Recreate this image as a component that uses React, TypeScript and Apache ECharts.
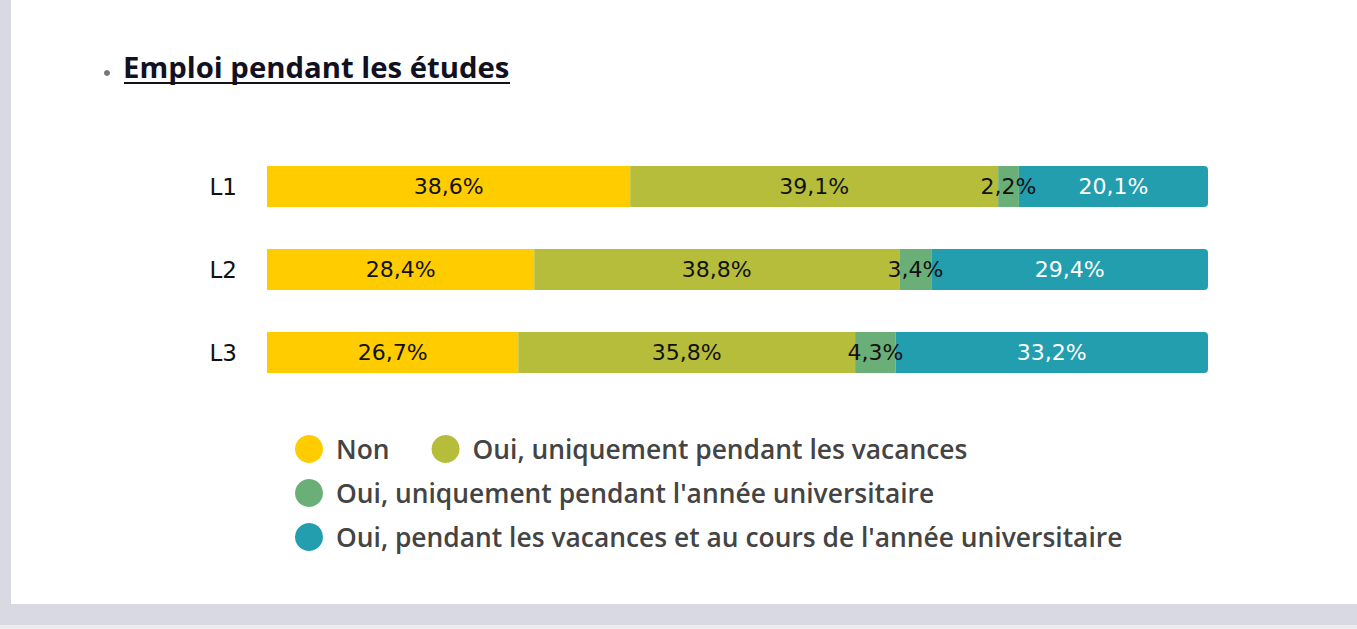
import React, { useEffect, useRef } from "react";
import * as echarts from "echarts";

const categories = ["L1", "L2", "L3"];
const seriesNames = [
  "Non",
  "Oui, uniquement pendant les vacances",
  "Oui, uniquement pendant l'année universitaire",
  "Oui, pendant les vacances et au cours de l'année universitaire",
];
const nonValues = [38.6, 28.4, 26.7];
const vacancesValues = [39.1, 38.8, 35.8];
const anneeValues = [2.2, 3.4, 4.3];
const tousValues = [20.1, 29.4, 33.2];
const seriesColors = ["#FFCC00", "#B5BD3B", "#6AAE78", "#239EAF"];
const titleText = "Emploi pendant les études";

export default function App() {
  const ref = useRef<HTMLDivElement>(null);
  useEffect(() => {
    if (!ref.current) return;
    const chart = echarts.init(ref.current, null, { renderer: "svg" });
    const values = [nonValues, vacancesValues, anneeValues, tousValues];
    const labelFont = "'DejaVu Sans', Verdana, sans-serif";
    const legendText = {
      fontFamily: "'Open Sans', Lato, sans-serif",
      fontWeight: 600 as any,
      fontSize: 26.4,
      color: "#444444",
      padding: [0, 0, 0, 8],
    };
    const legendCommon = {
      orient: "horizontal" as const,
      icon: "circle",
      itemWidth: 28,
      itemHeight: 28,
      itemGap: 42,
      textStyle: legendText,
      selectedMode: false,
      padding: 0,
    };
    chart.setOption({
      animation: false,
      backgroundColor: "#ececec",
      graphic: [
        { type: "rect", shape: { x: 0, y: 0, width: 1357, height: 625 }, style: { fill: "#d9d9e3" }, z: -10 },
        { type: "rect", shape: { x: 11, y: 0, width: 1346, height: 604 }, style: { fill: "#ffffff" }, z: -9 },
        { type: "circle", shape: { cx: 107, cy: 73, r: 3 }, style: { fill: "#777777" } },
        {
          type: "text",
          x: 123,
          y: 67,
          style: {
            text: titleText,
            fontFamily: "'Open Sans', Lato, sans-serif",
            fontWeight: "bold",
            fontSize: 29.3,
            fill: "#111122",
            verticalAlign: "middle",
          },
        },
        { type: "line", shape: { x1: 124, y1: 83, x2: 510, y2: 83 }, style: { stroke: "#111122", lineWidth: 2 } },
      ],
      grid: { left: 267, width: 941, top: 145, height: 249 },
      xAxis: { type: "value", min: 0, max: 100, show: false },
      yAxis: {
        type: "category",
        data: categories,
        inverse: true,
        axisLine: { show: false },
        axisTick: { show: false },
        axisLabel: { margin: 30, fontFamily: labelFont, fontSize: 23, color: "#111111" },
      },
      legend: [
        { ...legendCommon, data: [seriesNames[0], seriesNames[1]], left: 295, top: 435 },
        { ...legendCommon, data: [seriesNames[2]], left: 295, top: 479 },
        { ...legendCommon, data: [seriesNames[3]], left: 295, top: 523 },
      ],
      series: seriesNames.map((name, i) => ({
        name,
        type: "bar",
        stack: "total",
        barWidth: 41,
        data: values[i],
        itemStyle: {
          color: seriesColors[i],
          borderRadius: i === 3 ? [0, 4, 4, 0] : 0,
        },
        label: {
          show: true,
          position: "inside",
          formatter: (p: any) => p.value.toFixed(1).replace(".", ",") + "%",
          fontFamily: labelFont,
          fontSize: 22,
          color: i === 3 ? "#ffffff" : "#111111",
        },
      })),
    });
    return () => chart.dispose();
  }, []);
  return <div ref={ref} style={{ position: "fixed", left: 0, top: 0, width: 1357, height: 629 }} />;
}
